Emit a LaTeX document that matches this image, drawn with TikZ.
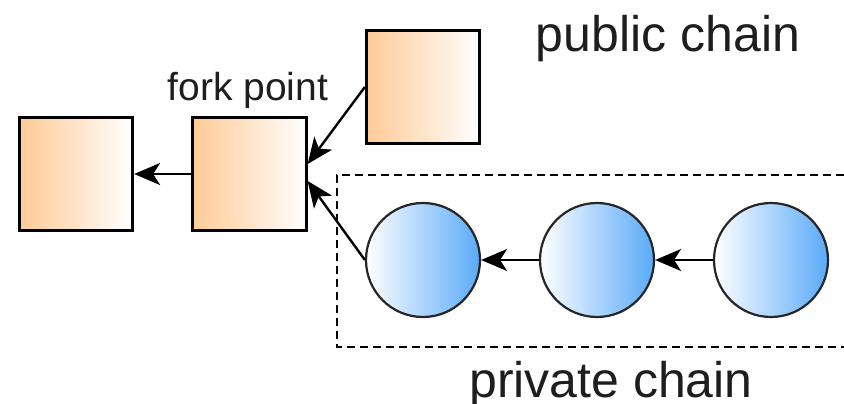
\documentclass[tikz,border=0pt]{standalone}
\usepackage{fontspec}
\setmainfont{Liberation Sans}
\usetikzlibrary{arrows.meta}
\definecolor{blockorange}{HTML}{FFCA96}
\definecolor{blockblue}{HTML}{5AAAF8}
\definecolor{labelgray}{HTML}{1E1E1E}
\begin{document}
\begin{tikzpicture}[x=1pt,y=-1pt,
  block/.style={draw=black,line width=2.8pt,minimum size=113.5pt,inner sep=0pt,
    left color=blockorange,right color=white},
  privblock/.style={circle,draw=black!85,line width=2.2pt,minimum size=114pt,inner sep=0pt,
    left color=white,right color=blockblue},
  link/.style={line width=2.4pt,-{Stealth[length=26pt,width=22pt,inset=7pt]}},
  bigtext/.style={text=labelgray,font=\fontsize{50}{60}\selectfont,inner sep=0pt,anchor=base},
  smalltext/.style={text=labelgray,font=\fontsize{39}{46}\selectfont,inner sep=0pt,anchor=base}]
\useasboundingbox (0,0) rectangle (844,404);

% dashed frame around the private blocks (open to the right)
\draw[line width=2.4pt,dash pattern=on 8pt off 5pt]
  (844,175) -- (337,175) -- (337,347) -- (844,347);

% public chain
\node[block] (b1) at (76,174) {};
\node[block] (b2) at (249.5,174) {};
\node[block] (b3) at (423,87) {};

% private chain
\node[privblock] (c1) at (423,260) {};
\node[privblock] (c2) at (597,260) {};
\node[privblock] (c3) at (771,260) {};

% links to parents
\draw[link] (b2.west) -- (b1.east);
\draw[link] (b3.west) -- ([yshift=10pt]b2.east);
\draw[link] (c1.west) -- ([yshift=-7pt]b2.east);
\draw[link] (c2.west) -- (c1.east);
\draw[link] (c3.west) -- (c2.east);

% labels
\node[bigtext] (pub) at (668,52) {public chain};
\node[bigtext] (priv) at (611,397) {private chain};
\node[smalltext] (fork) at (248,101) {fork point};
\end{tikzpicture}
\end{document}
